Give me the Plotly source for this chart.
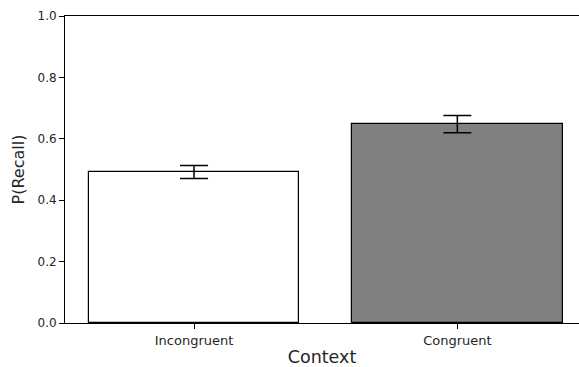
import plotly.graph_objects as go

categories = ["Incongruent", "Congruent"]
recall = [0.492, 0.648]
sem = [0.021, 0.028]
fills = ["#ffffff", "#808080"]

x_pos = list(range(len(categories)))

fig = go.Figure()
fig.add_trace(go.Bar(
    x=x_pos,
    y=recall,
    width=0.8,
    marker=dict(color=fills, line=dict(color="black", width=1.2)),
    error_y=dict(type="data", array=sem, visible=True, color="black",
                 thickness=1.5, width=14),
    showlegend=False,
))

font = "DejaVu Sans, sans-serif"
fig.update_layout(
    width=579, height=367,
    margin=dict(l=65, r=0, t=16, b=44),
    plot_bgcolor="white", paper_bgcolor="white",
    font=dict(family=font, color="#262626"),
    bargap=0,
)
fig.update_xaxes(
    range=[-0.49, 1.462],
    tickvals=x_pos, ticktext=categories,
    tickfont=dict(size=13),
    ticks="outside", ticklen=5, tickcolor="black",
    showline=True, linecolor="black", linewidth=1, mirror=True,
    showgrid=False, zeroline=False,
    title=dict(text="Context", font=dict(size=17.5), standoff=6),
)
fig.update_yaxes(
    range=[0, 1.0],
    tickvals=[0, 0.2, 0.4, 0.6, 0.8, 1.0], tickformat=".1f",
    tickfont=dict(size=12),
    ticks="outside", ticklen=5, tickcolor="black",
    showline=True, linecolor="black", linewidth=1,
    showgrid=False, zeroline=False,
    title=dict(text="P(Recall)", font=dict(size=16), standoff=8),
)

fig.write_html("out.html")
